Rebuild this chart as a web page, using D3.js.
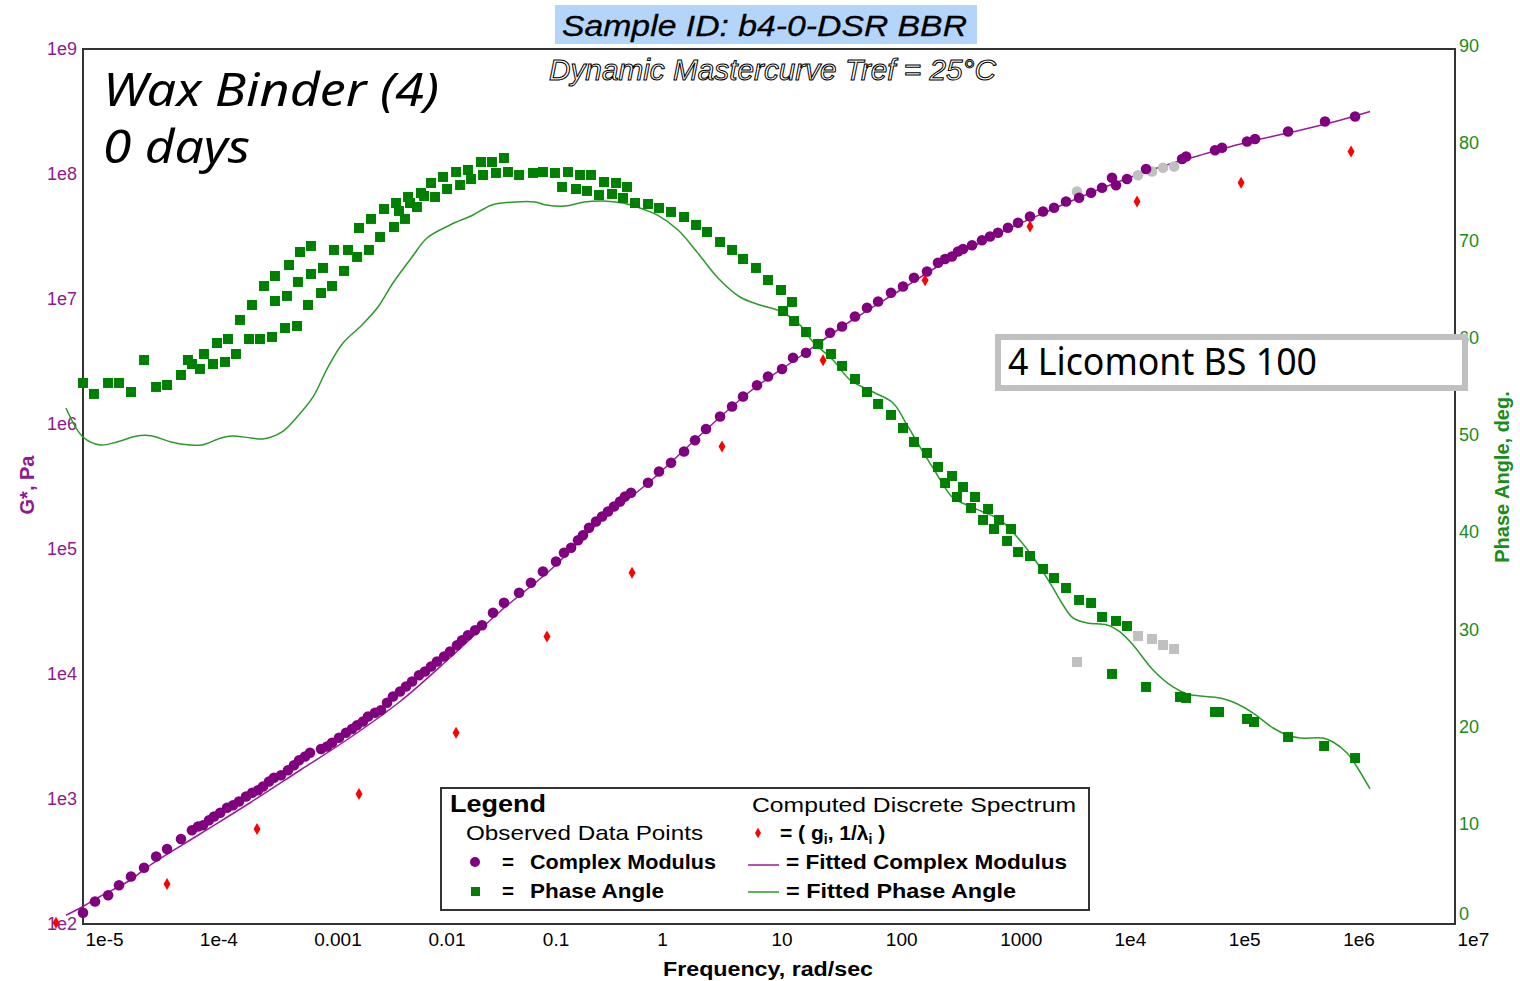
<!DOCTYPE html>
<html><head><meta charset="utf-8">
<script src="https://cdn.jsdelivr.net/npm/d3@7"></script>
<style>body{margin:0;background:#fff} svg{display:block}</style>
</head><body>
<svg id="c" width="1520" height="981"></svg>
<script>
// ---------- data (log10 frequency, log10 G* / phase angle in degrees) ----------
const xTickValues = [1e-5,1e-4,1e-3,1e-2,1e-1,1,10,100,1000,1e4,1e5,1e6,1e7];
const xTickLabels = ["1e-5","1e-4","0.001","0.01","0.1","1","10","100","1000","1e4","1e5","1e6","1e7"];
const gTickValues = [1e2,1e3,1e4,1e5,1e6,1e7,1e8,1e9];
const gTickLabels = ["1e2","1e3","1e4","1e5","1e6","1e7","1e8","1e9"];
const phaseTickValues = [0,10,20,30,40,50,60,70,80,90];

// observed complex modulus [log10 f, log10 G*]
const modulusObs = [[-5.00,2.09],[-4.895,2.18],[-4.78,2.23],[-4.685,2.31],[-4.58,2.38],[-4.466,2.45],[-4.36,2.54],[-4.265,2.60],[-4.143,2.68],[-4.047,2.75],
[-3.994,2.78],[-3.95,2.79],[-3.898,2.83],[-3.854,2.86],[-3.80,2.89],[-3.74,2.93],[-3.688,2.95],[-3.636,2.98],[-3.574,3.02],[-3.52,3.05],
[-3.469,3.07],[-3.426,3.10],[-3.373,3.14],[-3.33,3.17],[-3.268,3.19],[-3.207,3.23],[-3.155,3.27],[-3.11,3.31],[-3.058,3.34],[-3.015,3.37],
[-2.918,3.40],[-2.866,3.42],[-2.822,3.45],[-2.761,3.49],[-2.70,3.53],[-2.647,3.56],[-2.603,3.59],[-2.551,3.62],[-2.507,3.66],[-2.446,3.69],
[-2.394,3.71],[-2.341,3.77],[-2.289,3.82],[-2.227,3.86],[-2.175,3.90],[-2.122,3.94],[-2.061,3.99],[-2.009,4.02],[-1.956,4.06],[-1.904,4.10],
[-1.842,4.14],[-1.79,4.18],[-1.729,4.23],[-1.685,4.27],[-1.633,4.31],[-1.571,4.35],[-1.51,4.39],[-1.414,4.49],[-1.318,4.57],[-1.186,4.65],
[-1.082,4.73],[-0.977,4.82],[-0.863,4.90],[-0.793,4.97],[-0.731,5.01],[-0.67,5.07],[-0.627,5.11],[-0.574,5.17],[-0.513,5.22],[-0.46,5.26],
[-0.408,5.30],[-0.356,5.34],[-0.303,5.38],[-0.26,5.42],[-0.207,5.45],[-0.058,5.53],[0.038,5.62],[0.143,5.69],[0.257,5.78],[0.353,5.87],
[0.449,5.96],[0.572,6.06],[0.677,6.14],[0.773,6.22],[0.895,6.31],[0.991,6.38],[1.114,6.44],[1.21,6.53],[1.324,6.57],[1.429,6.64],
[1.534,6.73],[1.639,6.78],[1.752,6.86],[1.857,6.93],[1.954,6.98],[2.067,7.05],[2.172,7.10],[2.268,7.17],[2.382,7.22],[2.478,7.29],
[2.54,7.32],[2.60,7.34],[2.653,7.38],[2.697,7.40],[2.776,7.43],[2.863,7.47],[2.933,7.50],[3.003,7.53],[3.09,7.57],[3.178,7.61],
[3.283,7.66],[3.397,7.70],[3.493,7.73],[3.598,7.78],[3.712,7.81],[3.817,7.85],[3.913,7.89],[4.00,7.97],[4.035,7.91],[4.131,7.96],
[4.298,8.04],[4.613,8.12],[4.648,8.14],[4.901,8.19],[4.962,8.21],[5.181,8.26],[5.251,8.28],[5.54,8.34],[5.863,8.42],[6.126,8.46]];

// excluded (grey) modulus points
const modulusExcluded = [[3.694,7.86],[4.228,7.99],[4.35,8.02],[4.446,8.05],[4.543,8.06]];

// observed phase angle [log10 f, degrees]
const phaseObs = [[-5.00,55.65],[-4.904,54.52],[-4.781,55.65],[-4.685,55.65],[-4.58,54.72],[-4.466,58.01],[-4.361,55.24],[-4.265,55.44],[-4.143,56.47],[-4.082,58.01],
[-4.047,57.60],[-3.977,57.09],[-3.942,58.63],[-3.863,57.60],[-3.828,59.76],[-3.758,57.81],[-3.732,60.17],[-3.662,58.63],[-3.627,62.13],[-3.548,60.17],
[-3.522,63.67],[-3.452,60.17],[-3.417,65.62],[-3.347,60.38],[-3.321,66.65],[-3.321,64.08],[-3.233,61.30],[-3.216,64.60],[-3.198,67.78],[-3.128,61.51],
[-3.12,66.04],[-3.102,69.12],[-3.032,63.67],[-3.006,66.86],[-3.006,69.74],[-2.918,64.90],[-2.901,67.48],[-2.822,65.62],[-2.805,69.33],[-2.717,67.17],
[-2.682,69.33],[-2.603,68.61],[-2.586,71.59],[-2.499,69.33],[-2.481,72.52],[-2.402,70.66],[-2.367,73.54],[-2.28,71.69],[-2.262,74.16],[-2.236,73.34],
[-2.184,72.52],[-2.157,74.78],[-2.14,74.16],[-2.079,73.75],[-2.044,75.19],[-2.017,74.88],[-1.956,76.22],[-1.921,74.78],[-1.851,76.84],[-1.816,75.60],
[-1.737,77.35],[-1.702,76.01],[-1.633,77.56],[-1.606,76.63],[-1.519,78.38],[-1.501,77.04],[-1.423,78.38],[-1.388,77.25],[-1.318,78.79],[-1.283,77.35],
[-1.186,77.04],[-1.064,77.25],[-0.977,77.35],[-0.872,77.25],[-0.81,75.81],[-0.758,77.35],[-0.688,75.60],[-0.653,77.04],[-0.592,75.40],[-0.557,77.04],
[-0.487,74.98],[-0.443,76.32],[-0.373,75.09],[-0.338,76.22],[-0.277,74.68],[-0.242,75.81],[-0.172,74.16],[-0.058,74.06],[0.038,73.65],[0.143,73.24],
[0.257,72.72],[0.362,71.90],[0.458,71.18],[0.572,70.15],[0.677,69.33],[0.773,68.40],[0.886,67.48],[0.991,66.24],[1.105,65.21],[1.201,63.98],
[1.123,63.05],[1.219,62.02],[1.324,60.89],[1.429,59.66],[1.542,58.63],[1.639,57.40],[1.752,56.06],[1.857,54.72],[1.954,53.49],[2.067,52.36],
[2.172,51.02],[2.268,49.58],[2.382,48.45],[2.478,47.01],[2.601,46.08],[2.54,45.36],[2.697,44.95],[2.644,43.92],[2.802,43.92],[2.767,42.79],
[2.916,42.69],[2.872,41.56],[3.012,41.56],[2.968,40.63],[3.117,40.63],[3.082,39.40],[3.178,38.26],[3.283,37.85],[3.397,36.52],[3.493,35.59],
[3.598,34.56],[3.712,33.33],[3.817,33.02],[3.913,31.58],[4.035,31.17],[4.131,30.65],[4.00,25.72],[4.298,24.38],[4.595,23.35],[4.648,23.25],
[4.901,21.81],[4.936,21.81],[5.181,21.09],[5.242,20.78],[5.54,19.23],[5.855,18.31],[6.126,17.07]];

// excluded (grey) phase points
const phaseExcluded = [[3.694,26.95],[4.228,29.62],[4.35,29.32],[4.446,28.70],[4.543,28.29]];

// computed discrete spectrum (g_i, 1/lambda_i)
const spectrum = [[-5.236,2.01],[-4.265,2.32],[-3.478,2.76],[-2.586,3.04],[-1.737,3.53],[-0.942,4.30],[-0.198,4.81],
[0.589,5.82],[1.473,6.51],[2.365,7.15],[3.283,7.58],[4.219,7.78],[5.129,7.93],[6.091,8.18]];

// fitted complex modulus
const modulusFit = [[-5.149,2.07],[-5.0,2.14],[-4.851,2.22],[-4.589,2.35],[-4.414,2.47],[-3.977,2.72],[-3.539,2.97],[-3.102,3.23],
[-2.665,3.49],[-2.227,3.78],[-1.79,4.13],[-1.353,4.50],[-0.915,4.83],[-0.478,5.22],[-0.041,5.54],[0.397,5.91],[0.834,6.26],
[1.271,6.54],[1.709,6.82],[2.146,7.07],[2.583,7.32],[3.021,7.53],[3.458,7.71],[3.895,7.88],[4.333,8.03],[4.77,8.15],[5.207,8.26],
[5.644,8.35],[5.994,8.43],[6.257,8.50]];

// fitted phase angle
const phaseFit = [[-5.149,53.08],[-5.0,50.09],[-4.851,49.27],[-4.703,49.58],[-4.528,50.20],[-4.396,50.20],[-4.23,49.58],[-4.064,49.27],
[-3.959,49.27],[-3.793,49.99],[-3.697,50.20],[-3.531,49.99],[-3.426,49.89],[-3.259,50.61],[-3.128,52.15],[-2.988,54.21],[-2.857,57.29],
[-2.726,59.76],[-2.56,61.61],[-2.42,63.46],[-2.289,65.93],[-2.122,68.61],[-1.991,70.56],[-1.79,71.90],[-1.589,72.93],[-1.423,73.96],
[-1.221,74.26],[-1.047,74.26],[-0.95,73.96],[-0.784,73.85],[-0.618,74.26],[-0.452,74.37],[-0.277,74.16],[-0.154,73.75],[0.021,72.93],
[0.204,71.38],[0.37,69.12],[0.554,66.45],[0.746,64.49],[0.921,63.67],[1.096,63.05],[1.271,61.61],[1.385,59.86],[1.56,58.01],[1.709,55.96],
[1.91,54.72],[2.085,53.59],[2.207,51.33],[2.321,49.06],[2.435,46.90],[2.61,43.82],[2.732,43.10],[2.872,42.38],[3.021,41.56],[3.17,39.81],
[3.309,37.75],[3.458,35.08],[3.572,32.81],[3.659,31.48],[3.782,30.96],[3.957,30.76],[4.07,30.04],[4.184,28.70],[4.359,26.13],[4.534,24.38],
[4.656,23.66],[4.77,23.45],[4.945,23.25],[5.059,22.83],[5.234,21.70],[5.409,20.16],[5.531,19.44],[5.645,19.13],[5.846,19.13],[5.933,18.72],
[6.056,17.59],[6.143,16.15],[6.257,13.89]];

// ---------- colours ----------
const PURPLE = "#800080", GREEN = "#008000", RED = "#ff0000", GREY = "#c0c0c0";
const FIT_PURPLE = "#9a1a9a", FIT_GREEN = "#2a9a2a";

// ---------- scales ----------
const svg = d3.select("#c");
const x = d3.scaleLog().domain([1e-5, 1e7]).range([83, 1455]);
const yG = d3.scaleLog().domain([1e2, 1e9]).range([924, 49]);
const yP = d3.scaleLinear().domain([0, 90]).range([924, 49]);
const px = d => x(Math.pow(10, d[0]));
const pyG = d => yG(Math.pow(10, d[1]));
const pyP = d => yP(d[1]);

// ---------- titles ----------
svg.append("rect").attr("x",555).attr("y",5).attr("width",422).attr("height",39).attr("fill","#b4d5fa");
svg.append("text").attr("x",562).attr("y",36).attr("font-family","Liberation Sans, Arial").attr("font-style","italic")
  .attr("font-size",30).attr("textLength",405).attr("lengthAdjust","spacingAndGlyphs").attr("fill","#000").attr("stroke","#000").attr("stroke-width",0.3)
  .text("Sample ID: b4-0-DSR BBR");

// frame
svg.append("rect").attr("x",83).attr("y",49).attr("width",1372).attr("height",875)
  .attr("fill","none").attr("stroke","#333").attr("stroke-width",2);

svg.append("text").attr("x",549).attr("y",80).attr("font-family","Liberation Sans, Arial").attr("font-style","italic")
  .attr("font-size",29).attr("textLength",447).attr("lengthAdjust","spacingAndGlyphs")
  .attr("fill","#fff").attr("stroke","#000").attr("stroke-width",1)
  .text("Dynamic Mastercurve Tref = 25°C");

svg.append("text").attr("x",103).attr("y",106).attr("font-family","Noto Sans, Open Sans").attr("font-style","italic")
  .attr("font-size",46).attr("textLength",336).attr("lengthAdjust","spacingAndGlyphs").text("Wax Binder (4)");
svg.append("text").attr("x",103).attr("y",163).attr("font-family","Noto Sans, Open Sans").attr("font-style","italic")
  .attr("font-size",46).attr("textLength",147).attr("lengthAdjust","spacingAndGlyphs").text("0 days");

// ---------- axes ----------
const fontTick = "Liberation Sans, Arial";
const gx = svg.append("g").attr("transform","translate(0,924)")
  .call(d3.axisBottom(x).tickValues(xTickValues).tickFormat((d,i)=>xTickLabels[i]).tickSize(0).tickPadding(9));
gx.select(".domain").remove();
gx.selectAll("text").attr("text-anchor","start").attr("dx",2).attr("font-family",fontTick).attr("font-size",19).attr("fill","#000");

const gl = svg.append("g").attr("transform","translate(77,0)")
  .call(d3.axisLeft(yG).tickValues(gTickValues).tickFormat((d,i)=>gTickLabels[i]).tickSize(0).tickPadding(0));
gl.select(".domain").remove();
gl.selectAll("text").attr("font-family",fontTick).attr("font-size",18).attr("fill","#8e1a8e").attr("dy","0.28em");

const gr = svg.append("g").attr("transform","translate(1458,0)")
  .call(d3.axisRight(yP).tickValues(phaseTickValues).tickFormat(d3.format("d")).tickSize(0).tickPadding(1));
gr.select(".domain").remove();
gr.selectAll("text").attr("font-family",fontTick).attr("font-size",18).attr("fill","#1a8c1a")
  .attr("dy", d => d === 0 ? "-0.25em" : "0.15em");

svg.append("text").attr("transform","translate(34,485) rotate(-90)").attr("text-anchor","middle")
  .attr("font-family",fontTick).attr("font-weight","bold").attr("font-size",20).attr("fill","#8e1a8e").text("G*, Pa");
svg.append("text").attr("transform","translate(1509,477) rotate(-90)").attr("text-anchor","middle")
  .attr("font-family",fontTick).attr("font-weight","bold").attr("font-size",20).attr("fill","#1a8c1a").text("Phase Angle, deg.");
svg.append("text").attr("x",768).attr("y",976).attr("text-anchor","middle")
  .attr("font-family",fontTick).attr("font-weight","bold").attr("font-size",20).attr("textLength",210).attr("lengthAdjust","spacingAndGlyphs")
  .text("Frequency, rad/sec");

// ---------- fitted lines ----------
const lineG = d3.line().x(px).y(pyG).curve(d3.curveCatmullRom);
const lineP = d3.line().x(px).y(pyP).curve(d3.curveCatmullRom);
svg.append("path").datum(modulusFit).attr("d",lineG).attr("fill","none").attr("stroke",FIT_PURPLE).attr("stroke-width",1.5);
svg.append("path").datum(phaseFit).attr("d",lineP).attr("fill","none").attr("stroke",FIT_GREEN).attr("stroke-width",1.5);

// ---------- markers ----------
svg.append("g").selectAll("circle").data(modulusExcluded).join("circle")
  .attr("cx",px).attr("cy",pyG).attr("r",5.3).attr("fill",GREY);
svg.append("g").selectAll("circle").data(modulusObs).join("circle")
  .attr("cx",px).attr("cy",pyG).attr("r",5.3).attr("fill",PURPLE);
const diamond = d3.symbol().type(d3.symbolDiamond).size(42);
svg.append("g").selectAll("path").data(spectrum).join("path")
  .attr("transform",d=>`translate(${px(d)},${pyG(d)})`).attr("d",diamond).attr("fill",RED);
svg.append("g").selectAll("rect").data(phaseExcluded).join("rect")
  .attr("x",d=>px(d)-5).attr("y",d=>pyP(d)-5).attr("width",10).attr("height",10).attr("fill",GREY);
svg.append("g").selectAll("rect").data(phaseObs).join("rect")
  .attr("x",d=>px(d)-5).attr("y",d=>pyP(d)-5).attr("width",10).attr("height",10).attr("fill",GREEN);

// ---------- annotation box ----------
svg.append("rect").attr("x",998).attr("y",337).attr("width",467).attr("height",51)
  .attr("fill","#fff").attr("stroke",GREY).attr("stroke-width",6);
svg.append("text").attr("x",1008).attr("y",375).attr("font-family","Noto Sans, Open Sans").attr("font-size",38)
  .attr("textLength",309).attr("lengthAdjust","spacingAndGlyphs").text("4 Licomont BS 100");

// ---------- legend ----------
const lg = svg.append("g");
lg.append("rect").attr("x",441).attr("y",788).attr("width",648).attr("height",122)
  .attr("fill","#fff").attr("stroke","#333").attr("stroke-width",2);
const lt = (xx,yy,txt,len,bold,size) => lg.append("text").attr("x",xx).attr("y",yy)
  .attr("font-family",fontTick).attr("font-size",size||21).attr("font-weight",bold?"bold":"normal")
  .attr("textLength",len).attr("lengthAdjust","spacingAndGlyphs").text(txt);
lt(450,812,"Legend",96,true,24);
lt(752,812,"Computed Discrete Spectrum",324,false,21);
lt(466,840,"Observed Data Points",237,false,21);
lg.append("path").attr("transform","translate(758,833)").attr("d",d3.symbol().type(d3.symbolDiamond).size(32)).attr("fill",RED);
const gt = lg.append("text").attr("x",780).attr("y",840).attr("font-family",fontTick).attr("font-size",21).attr("font-weight","bold");
gt.append("tspan").text("=  ( g");
gt.append("tspan").attr("font-size",14).attr("dy",4).text("i");
gt.append("tspan").attr("dy",-4).text(", 1/λ");
gt.append("tspan").attr("font-size",14).attr("dy",4).text("i");
gt.append("tspan").attr("dy",-4).text(" )");
lg.append("circle").attr("cx",475).attr("cy",862).attr("r",5).attr("fill",PURPLE);
lt(502,869,"=",12,true,21);
lt(530,869,"Complex Modulus",186,true,21);
lg.append("rect").attr("x",471).attr("y",887).attr("width",9).attr("height",9).attr("fill",GREEN);
lt(502,898,"=",12,true,21);
lt(530,898,"Phase Angle",134,true,21);
lg.append("line").attr("x1",748).attr("x2",779).attr("y1",865).attr("y2",865).attr("stroke",FIT_PURPLE).attr("stroke-width",1.5);
lt(786,869,"= Fitted  Complex Modulus",281,true,21);
lg.append("line").attr("x1",748).attr("x2",779).attr("y1",892).attr("y2",892).attr("stroke",FIT_GREEN).attr("stroke-width",1.5);
lt(786,898,"= Fitted  Phase Angle",230,true,21);
</script>
</body></html>
